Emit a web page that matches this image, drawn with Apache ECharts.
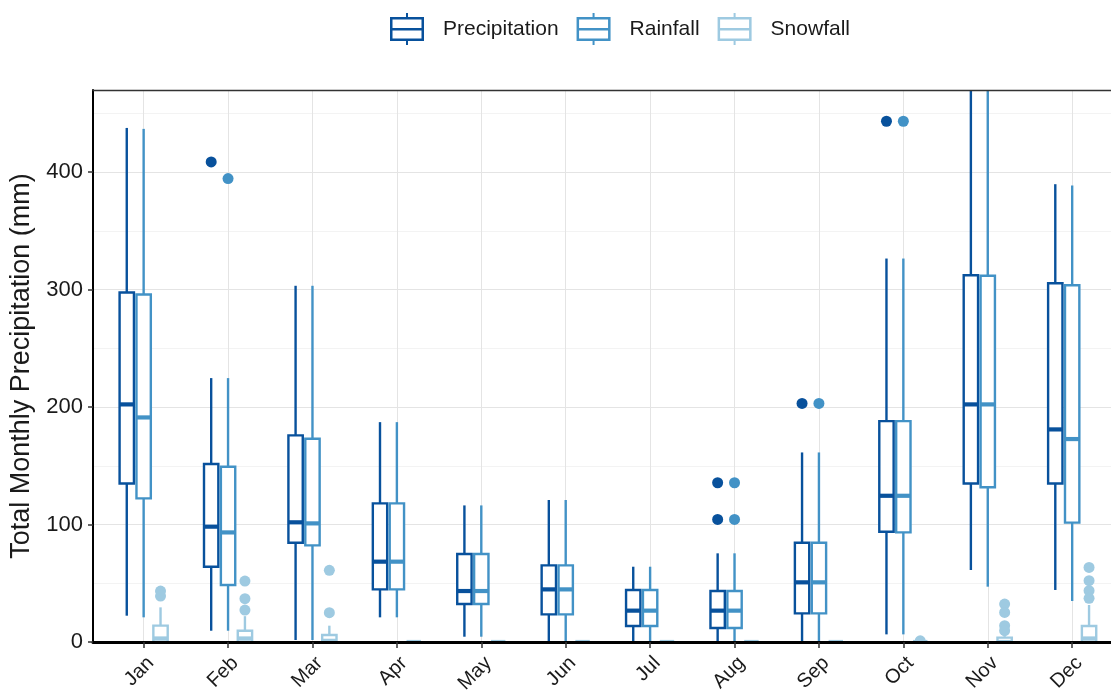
<!DOCTYPE html>
<html>
<head>
<meta charset="utf-8">
<script src="https://cdn.jsdelivr.net/npm/echarts@6/dist/echarts.min.js"></script>
<style>
html,body{margin:0;padding:0;background:#fff;}
#chart{width:1111px;height:690px;}
</style>
</head>
<body>
<div id="chart"></div>
<script>
const months = ['Jan','Feb','Mar','Apr','May','Jun','Jul','Aug','Sep','Oct','Nov','Dec'];
const seriesNames = ['Precipitation','Rainfall','Snowfall'];
const yTicks = [0, 100, 200, 300, 400];

// [whisker low, Q1, median, Q3, whisker high]
const precipBox = [
  [22.4, 135, 202.3, 297.6, 437.7],
  [9.6, 64.1, 98.2, 151.5, 224.7],
  [1.7, 84.5, 101.9, 175.9, 303.3],
  [21, 44.8, 68.4, 118, 187.2],
  [4.5, 32.3, 43.4, 74.9, 116.3],
  [0, 23.5, 44.8, 65.2, 120.9],
  [0, 13.6, 26.7, 44.3, 64.1],
  [0, 11.9, 26.7, 43.4, 75.5],
  [0, 24.4, 50.8, 84.5, 161.4],
  [6.5, 93.9, 124.5, 188.1, 326.5],
  [61.3, 135, 202.3, 312.3, 520],
  [44.3, 135, 181, 305.5, 389.8]
];
const rainBox = [
  [21, 122.3, 191.2, 295.9, 436.9],
  [9.6, 48.5, 93.3, 149.2, 224.7],
  [1.7, 82.3, 101, 173, 303.3],
  [21, 44.8, 68.4, 118, 187.2],
  [4.5, 32.3, 43.4, 74.9, 116.3],
  [0, 23.5, 44.8, 65.2, 120.9],
  [0, 13.6, 26.7, 44.3, 64.1],
  [0, 11.9, 26.7, 43.4, 75.5],
  [0, 24.4, 50.8, 84.5, 161.4],
  [6.5, 93.3, 124.5, 188.1, 326.5],
  [47.1, 131.7, 202.3, 311.8, 520],
  [34.9, 101.6, 172.8, 303.8, 388.7]
];
const snowBox = [
  [0, 0, 3, 13.9, 29.5],
  [0, 0, 3, 9.6, 22],
  [0, 0, 1, 6, 13.9],
  [0, 0, 0, 0, 0],
  [0, 0, 0, 0, 0],
  [0, 0, 0, 0, 0],
  [0, 0, 0, 0, 0],
  [0, 0, 0, 0, 0],
  [0, 0, 0, 0, 0],
  [0, 0, 0, 0, 0],
  [0, 0, 0, 3.7, 5],
  [0, 0, 3, 13.6, 31.5]
];
const precipOutliers = [['Feb', 408.8], ['Aug', 135.6], ['Aug', 104.4], ['Sep', 203.1], ['Oct', 443.4]];
const rainOutliers = [['Feb', 394.6], ['Aug', 135.6], ['Aug', 104.4], ['Sep', 203.1], ['Oct', 443.4]];
const snowOutliers = [
  ['Jan', 43.4], ['Jan', 39.1],
  ['Feb', 51.9], ['Feb', 36.9], ['Feb', 27.2],
  ['Mar', 61], ['Mar', 25],
  ['Oct', 1],
  ['Nov', 32.3], ['Nov', 25.2], ['Nov', 13.9], ['Nov', 9.6],
  ['Dec', 63.5], ['Dec', 52.2], ['Dec', 43.7], ['Dec', 37.2]
];

const colors = ['#08519C', '#4292C6', '#9ECAE1'];
const dodge = [-0.2, 0, 0.2];
const boxW = 0.17;
const xMin = 0.4, xMax = 12.46;
const legendIcon = 'path://M0,4h34v2.5h-34z M0,25.5h34v2.5h-34z M0,4h2.5v24h-2.5z M31.5,4h2.5v24h-2.5z M0,15h34v2.5h-34z M16,0h2v5h-2z M16,27h2v5h-2z';

function boxRenderer(k) {
  return function (params, api) {
    const x = api.value(0) + dodge[k];
    const lo = api.coord([x, api.value(1)]);
    const q1 = api.coord([x, api.value(2)]);
    const med = api.coord([x, api.value(3)]);
    const q3 = api.coord([x, api.value(4)]);
    const hi = api.coord([x, api.value(5)]);
    const w = api.size([boxW, 0])[0];
    const cx = lo[0];
    const c = colors[k];
    return {
      type: 'group',
      children: [
        {type: 'line', shape: {x1: cx, y1: hi[1], x2: cx, y2: q3[1]}, style: {stroke: c, lineWidth: 2.4}},
        {type: 'line', shape: {x1: cx, y1: q1[1], x2: cx, y2: lo[1]}, style: {stroke: c, lineWidth: 2.4}},
        {type: 'rect', shape: {x: cx - w / 2, y: q3[1], width: w, height: q1[1] - q3[1]}, style: {fill: '#fff', stroke: c, lineWidth: 2.4}},
        {type: 'line', shape: {x1: cx - w / 2, y1: med[1], x2: cx + w / 2, y2: med[1]}, style: {stroke: c, lineWidth: 4.2}}
      ]
    };
  };
}
function outlierRenderer(k) {
  return function (params, api) {
    const p = api.coord([api.value(0) + dodge[k], api.value(1)]);
    return {type: 'circle', shape: {cx: p[0], cy: p[1], r: 5.5}, style: {fill: colors[k]}};
  };
}

const boxes = [precipBox, rainBox, snowBox];
const outs = [precipOutliers, rainOutliers, snowOutliers];
const series = [];
seriesNames.forEach((name, k) => {
  series.push({
    type: 'custom', name: name, xAxisIndex: 0, yAxisIndex: 0, clip: true,
    itemStyle: {color: colors[k]},
    renderItem: boxRenderer(k),
    encode: {x: 0, y: [1, 2, 3, 4, 5]},
    data: boxes[k].map((b, i) => [i + 1].concat(b))
  });
});
seriesNames.forEach((name, k) => {
  series.push({
    type: 'custom', name: name, xAxisIndex: 0, yAxisIndex: 0, clip: true,
    itemStyle: {color: colors[k]},
    renderItem: outlierRenderer(k),
    encode: {x: 0, y: 1},
    data: outs[k].map(o => [months.indexOf(o[0]) + 1, o[1]])
  });
});

const monthPos = months.map((m, i) => i + 1);
const font = 'Liberation Sans';

const chart = echarts.init(document.getElementById('chart'), null, {renderer: 'canvas'});
chart.setOption({
  animation: false,
  backgroundColor: '#fff',
  textStyle: {fontFamily: font},
  legend: {
    data: seriesNames.map(n => ({name: n, icon: legendIcon})),
    left: 390, top: 13, padding: 0,
    itemWidth: 34, itemHeight: 32, itemGap: 18,
    itemStyle: {borderWidth: 0},
    textStyle: {fontSize: 21, color: '#1a1a1a', fontFamily: font, padding: [0, 0, 0, 14]}
  },
  grid: {
    left: 93, top: 90, right: 0, bottom: 48,
    show: false, containLabel: false, outerBoundsMode: 'none'
  },
  xAxis: [
    {
      type: 'value', min: xMin, max: xMax, position: 'bottom', z: 0,
      axisLine: {show: false}, axisLabel: {show: false},
      axisTick: {show: false, customValues: monthPos},
      splitLine: {show: true, lineStyle: {color: '#e4e4e4', width: 1}}
    },
    {
      type: 'value', min: xMin, max: xMax, position: 'bottom', z: 10,
      axisLine: {show: true, onZero: false, lineStyle: {color: '#000', width: 3}},
      axisTick: {show: true, length: 6, customValues: monthPos, lineStyle: {color: '#333', width: 1.5}},
      axisLabel: {
        show: true, customValues: monthPos, rotate: 45, margin: 11, verticalAlign: 'top',
        fontSize: 20, color: '#1a1a1a', fontFamily: font,
        formatter: v => months[Math.round(v) - 1] || ''
      },
      splitLine: {show: false}
    },
    {
      type: 'value', min: xMin, max: xMax, position: 'top', z: 10,
      axisLine: {show: true, onZero: false, lineStyle: {color: '#333', width: 1.3}},
      axisTick: {show: false}, axisLabel: {show: false}, splitLine: {show: false}
    }
  ],
  yAxis: [
    {
      type: 'value', min: 0, max: 470, interval: 50, position: 'left', z: 0,
      axisLine: {show: false}, axisTick: {show: false}, axisLabel: {show: false},
      splitLine: {show: true, lineStyle: {color: ['#e4e4e4', '#f3f3f3'], width: 1}}
    },
    {
      type: 'value', min: 0, max: 470, position: 'left', z: 10,
      name: 'Total Monthly Precipitation (mm)', nameLocation: 'middle', nameGap: 52,
      nameTextStyle: {fontSize: 27, color: '#1a1a1a', fontFamily: font},
      axisLine: {show: true, onZero: false, lineStyle: {color: '#000', width: 2}},
      axisTick: {show: true, length: 5, customValues: yTicks, lineStyle: {color: '#333', width: 1.5}},
      axisLabel: {show: true, customValues: yTicks, margin: 10, fontSize: 22, color: '#1a1a1a', fontFamily: font},
      splitLine: {show: false}
    }
  ],
  series: series
});
</script>
</body>
</html>
